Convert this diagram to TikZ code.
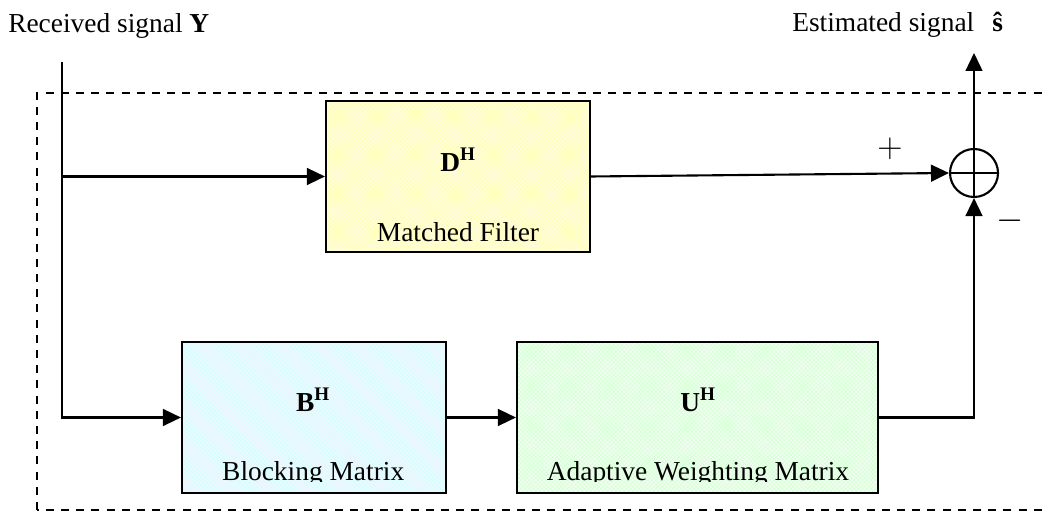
\documentclass[tikz,border=0pt]{standalone}
\usepackage{fontspec}
\setmainfont{Liberation Serif}
\usetikzlibrary{arrows.meta,patterns}

\tikzset{
  blockbox/.style={draw, line width=1.5pt, minimum height=3.775cm, inner sep=0pt},
  wire/.style={line width=1.5pt},
  sig/.style={wire, -{Triangle[length=4.5mm,width=4.2mm]}},
  lbl/.style={inner sep=0pt},
}

\begin{document}
\begin{tikzpicture}[font=\fontsize{19.5}{23}\selectfont]
\useasboundingbox (0,0) rectangle (26.05,12.8);
\clip (0,0) rectangle (26.05,12.8);

% dashed frame (right side runs off the page)
\draw[line width=1.3pt, dash pattern=on 2mm off 1.8mm] (0.925,0.05) rectangle (27,10.475);

% blocks
\node[blockbox, minimum width=6.6cm, preaction={fill=yellow!14},
      pattern=crosshatch, pattern color=yellow!28] (mf) at (11.45,8.3875) {};
\node[blockbox, minimum width=6.6cm, preaction={fill=cyan!8},
      pattern=north west lines, pattern color=cyan!20] (bm) at (7.85,2.3625) {};
\node[blockbox, minimum width=9.025cm, preaction={fill=green!6},
      pattern=crosshatch, pattern color=green!16] (uw) at (17.4375,2.3625) {};

\node[lbl] (dh) at (11.45,8.8) {\textbf{D\textsuperscript{H}}};
\node[lbl] (mftxt) at (11.45,7.0) {Matched Filter};
\node[lbl] (bh) at (7.825,2.8) {\textbf{B\textsuperscript{H}}};
\node[lbl] (uh) at (17.45,2.8) {\textbf{U\textsuperscript{H}}};
\begin{scope}
  \clip (4.6,0.77) rectangle (21.9,4.2);
  \node[lbl, anchor=base] (bmtxt) at (7.83,0.775) {Blocking Matrix};
  \node[lbl, anchor=base] (uwtxt) at (17.45,0.775) {Adaptive Weighting Matrix};
\end{scope}

% summing point
\node[draw, circle, line width=1.5pt, minimum size=1.2cm, inner sep=0pt] (sum) at (24.35,8.475) {};
\draw[wire] (sum.west) -- (sum.east);
\draw[wire] (sum.north) -- (sum.south);
\node (plus) at (22.25,9.075) {\fontsize{36}{36}\selectfont$+$};
\node (minus) at (25.25,7.275) {\fontsize{36}{36}\selectfont$-$};

% signals
\node[lbl, anchor=base west] (rx) at (0.2,11.975) {Received signal \textbf{Y}};
\node[lbl, anchor=base west] (est) at (19.8,12.0) {Estimated signal\hspace{0.45cm}\textbf{\^{s}}};
\coordinate (in) at (1.55,11.25);
\coordinate (out) at (24.35,11.475);

\draw[sig] (in) |- (bm.west);
\draw[sig] (in |- mf.west) -- (mf.west);
\draw[sig] (bm.east) -- (uw.west);
\draw[sig] (mf.east) -- (sum.west);
\draw[sig] (uw.east) -| (sum.south);
\draw[sig] (sum.north) -- (out);

\end{tikzpicture}
\end{document}
